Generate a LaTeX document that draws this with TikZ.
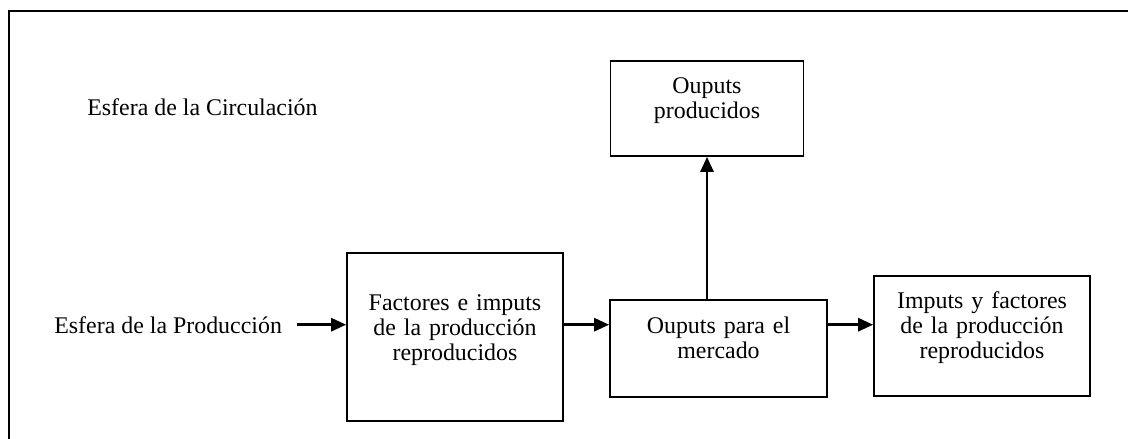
\documentclass[tikz,border=0pt]{standalone}
\usepackage{fontspec}
\setmainfont{Liberation Serif}
\usetikzlibrary{arrows.meta}
\tikzset{stage box/.style={draw, line width=1pt, inner sep=0pt, align=center, anchor=base},}
\tikzset{sphere label/.style={inner sep=0pt, anchor=base west},}
\tikzset{flow/.style={-{Triangle[length=8.5pt,width=7.4pt]}, line width=1.5pt},}

\begin{document}
\begin{tikzpicture}[x=0.02cm, y=-0.02cm, font=\fontsize{13.6}{14.5}\selectfont]
     \useasboundingbox (0,0) rectangle (1128,439);
     \clip (0,0) rectangle (1128,439);
     \draw[line width=1.5pt] (9,11) rectangle (1160,470);

     \node[sphere label] (circ) at (87,115) {Esfera de la Circulación};
     \node[sphere label] (prod) at (54,333) {Esfera de la Producción};

     \node[stage box, text width=4.32cm, text height=1.14cm, text depth=2.22cm] (fact) at (455,310) {Factores e imputs\\ de la producción\\ reproducidos};
     \node[stage box, text width=4.34cm, text height=0.66cm, text depth=1.28cm] (merc) at (718.5,333) {Ouputs para el\\ mercado};
     \node[stage box, text width=3.86cm, text height=0.64cm, text depth=1.26cm] (outp) at (707,93) {Ouputs\\ producidos};
     \node[stage box, text width=4.32cm, text height=0.64cm, text depth=1.76cm] (imp) at (982,308) {Imputs y factores\\ de la producción\\ reproducidos};

     \path[flow]
     ([xshift=0.3cm]prod.east) edge (prod.east -| fact.west)
     (fact.east |- prod.east) edge (merc.west |- prod.east)
     (merc.east |- prod.east) edge (imp.west |- prod.east)
     (merc.north -| outp.south) edge (outp.south);
\end{tikzpicture}
\end{document}
